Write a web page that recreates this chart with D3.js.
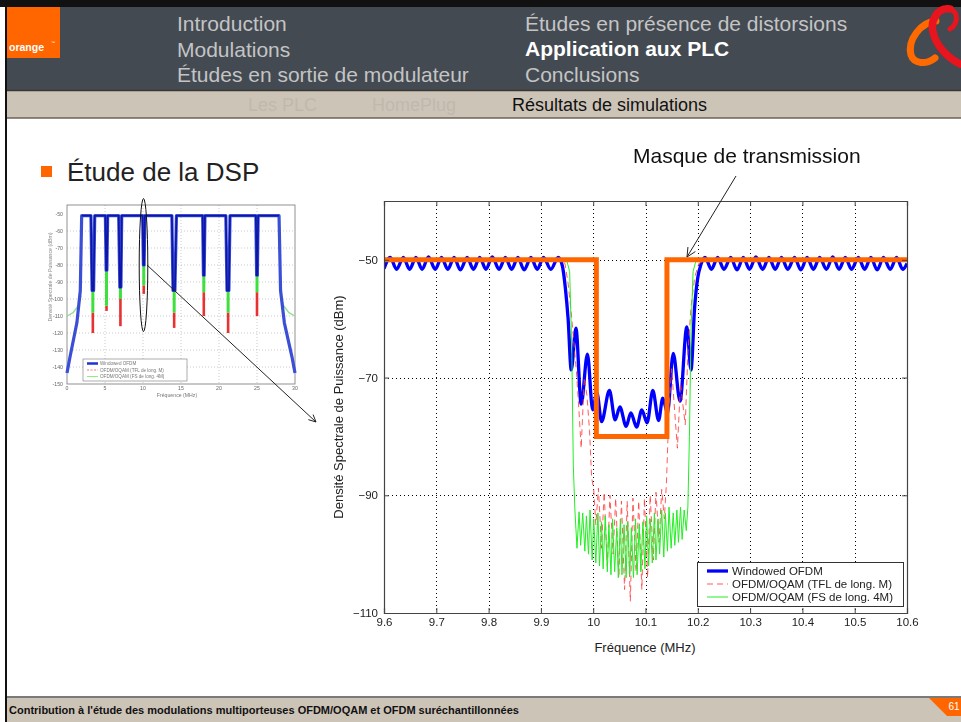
<!DOCTYPE html>
<html>
<head>
<meta charset="utf-8">
<script src="https://cdn.jsdelivr.net/npm/d3@7"></script>
<style>
  body { margin: 0; background: #fff; }
  svg { display: block; font-family: "Liberation Sans", Arial, Helvetica, sans-serif; }
</style>
</head>
<body>
<svg id="slide" width="961" height="722"></svg>
<script>
// ---------- Slide navigation ----------
const navLeft = ["Introduction", "Modulations", "Études en sortie de modulateur"];
const navRight = ["Études en présence de distorsions", "Application aux PLC", "Conclusions"];
const subNav = ["Les PLC", "HomePlug", "Résultats de simulations"];
const footerText = "Contribution à l'étude des modulations multiporteuses OFDM/OQAM et OFDM suréchantillonnées";
const pageNumber = "61";

// ---------- Zoomed PSD around the 10 MHz notch ----------
const xTickValues = [9.6, 9.7, 9.8, 9.9, 10.0, 10.1, 10.2, 10.3, 10.4, 10.5, 10.6];
const yTickValues = [-110, -90, -70, -50];
const legendLabels = ["Windowed OFDM", "OFDM/OQAM (TFL de long. M)", "OFDM/OQAM (FS de long. 4M)"];

const windowedFreq = [
  9.600, 9.612, 9.624, 9.637, 9.649, 9.661, 9.673, 9.685, 9.698, 9.710, 9.722, 9.734, 9.746, 9.759,
  9.771, 9.783, 9.795, 9.807, 9.820, 9.832, 9.844, 9.856, 9.868, 9.881, 9.893, 9.905, 9.919, 9.933,
  9.941, 9.947, 9.952, 9.958, 9.967, 9.977, 9.989, 9.999, 10.007, 10.016, 10.031, 10.042, 10.051,
  10.063, 10.072, 10.083, 10.093, 10.103, 10.114, 10.125, 10.133, 10.142, 10.153, 10.166, 10.179,
  10.187, 10.194, 10.200, 10.206,
  10.214, 10.226, 10.238, 10.250, 10.263, 10.275, 10.287, 10.299, 10.311, 10.324, 10.336, 10.348,
  10.360, 10.372, 10.385, 10.397, 10.409, 10.421, 10.433, 10.446, 10.458, 10.470, 10.482, 10.494,
  10.507, 10.519, 10.531, 10.543, 10.555, 10.568, 10.580, 10.592, 10.600
];
const windowedDsp = [
  -51.5, -49.6, -51.6, -49.6, -51.6, -49.6, -51.6, -49.5, -51.6, -49.6, -51.6, -49.6, -51.7, -49.6,
  -51.6, -49.6, -51.6, -49.5, -51.6, -49.6, -51.6, -49.6, -51.7, -49.6, -51.6, -49.6, -51.6, -49.6,
  -51.0, -55.0, -60.0, -68.7, -61.6, -74.5, -66.0, -75.5, -72.5, -77.5, -72.2, -77.2, -75.0,
  -78.3, -76.0, -78.4, -75.5, -77.7, -72.2, -77.3, -73.5, -76.0, -65.9, -74.0, -61.4,
  -68.7, -58.0, -53.0, -50.8,
  -49.6, -51.6, -49.6, -51.6, -49.6, -51.7, -49.6, -51.6, -49.5, -51.6, -49.6, -51.6,
  -49.6, -51.6, -49.6, -51.7, -49.6, -51.6, -49.6, -51.6, -49.5, -51.6, -49.6, -51.6,
  -49.6, -51.6, -49.6, -51.7, -49.6, -51.6, -49.6, -51.6, -50.6
];

const tflFreq = [
  9.600, 9.700, 9.800, 9.900, 9.940, 9.946, 9.952, 9.958, 9.963, 9.968, 9.973, 9.977, 9.983, 9.988,
  9.993, 9.997, 10.001,
  10.005, 10.010, 10.016, 10.021, 10.027, 10.032, 10.038, 10.043, 10.049, 10.054, 10.060, 10.065,
  10.071, 10.076, 10.082, 10.087, 10.093, 10.098, 10.104, 10.109, 10.115, 10.120, 10.126, 10.131,
  10.136, 10.140,
  10.145, 10.150, 10.156, 10.161, 10.167, 10.172, 10.176, 10.181, 10.187, 10.194, 10.202, 10.210,
  10.300, 10.400, 10.500, 10.600
];
const tflDsp = [
  -50.2, -50.2, -50.2, -50.2, -50.3, -50.6, -54, -59, -64, -69, -76, -82, -70, -73,
  -79, -87, -89,
  -95, -88.8, -99, -89.5, -102, -90, -100, -90.5, -104, -91, -106, -91,
  -108, -90.5, -103, -91, -106, -90.5, -104, -90, -101, -89.5, -98, -89,
  -94, -88,
  -75, -68.5, -76, -82, -71, -75, -78, -66, -58, -53, -50.6, -50.3,
  -50.2, -50.2, -50.2, -50.2
];

const fsFreq = [
  9.600, 9.700, 9.800, 9.900, 9.950, 9.955, 9.959, 9.962, 9.965,
  9.969, 9.973, 9.976, 9.980, 9.984, 9.987, 9.991, 9.994, 9.998, 10.001,
  10.005, 10.009, 10.012, 10.016, 10.019, 10.023, 10.027, 10.030, 10.034, 10.037,
  10.041, 10.045, 10.048, 10.052, 10.055, 10.059, 10.063, 10.066, 10.070, 10.073,
  10.077, 10.081, 10.084, 10.088, 10.091, 10.095, 10.099, 10.102, 10.106, 10.109,
  10.113, 10.117, 10.120, 10.124, 10.127, 10.131, 10.135, 10.138, 10.142, 10.145,
  10.149, 10.153, 10.156, 10.160, 10.163, 10.167, 10.170, 10.174, 10.178, 10.181,
  10.184, 10.187, 10.191, 10.196, 10.300, 10.400, 10.500, 10.600
];
const fsDsp = [
  -50.2, -50.2, -50.2, -50.2, -50.3, -52, -65, -85, -92.5,
  -99, -92.8, -98.5, -93, -99.5, -93.5, -100, -92.5, -101, -94,
  -101.5, -93, -102, -94.5, -102.5, -93.5, -103, -95, -103.5, -94,
  -103, -95.5, -104, -94, -103.5, -95, -104, -94.5, -103.5, -95.5,
  -104, -94, -103.5, -95, -103, -94.5, -102.5, -93.5, -102, -94,
  -101.5, -93, -101, -94, -100, -92.5, -100.5, -93, -99.5, -92,
  -99, -93, -98.5, -92.5, -98, -92, -97.5, -92.5, -96, -92,
  -80, -62, -52, -50.3, -50.2, -50.2, -50.2, -50.2
];

// transmission mask
const maskFreq = [9.6, 10.006, 10.006, 10.141, 10.141, 10.6];
const maskDsp = [-50, -50, -80, -80, -50, -50];

// ---------- Full-band PSD overview (0-30 MHz) ----------
const thumbXTicks = [0, 5, 10, 15, 20, 25, 30];
const thumbYTicks = [-50, -60, -70, -80, -90, -100, -110, -120, -130, -140, -150];
const thumbWinFreq = [0, 0.4, 1.3, 1.75, 1.93,
  3.15, 3.3, 3.5, 3.65, 5.05, 5.15, 5.25, 5.35, 6.8, 6.95, 7.1, 7.2, 9.95, 10.05, 10.15, 10.25,
  13.8, 13.95, 14.2, 14.4, 17.85, 17.95, 18.05, 18.15, 20.9, 21.05, 21.3, 21.45, 24.85, 24.95, 25.05, 25.15,
  27.9, 28.1, 28.6, 29.6, 30];
const thumbWinDsp = [-143.5, -134, -114, -95, -51,
  -51, -95, -95, -51, -51, -83, -83, -51, -51, -93, -93, -51, -51, -80, -80, -51,
  -51, -95, -95, -51, -51, -86, -86, -51, -51, -95, -95, -51, -51, -86, -86, -51,
  -51, -95, -114, -134, -143.5];
const thumbNotchFreq = [3.4, 5.2, 7.03, 10.1, 14.1, 18.0, 21.2, 25.0];
const thumbNotchBlue = [-95, -83, -93, -80, -95, -86, -95, -86];
const thumbNotchGreen = [-108, -104, -100, -92, -108, -96, -108, -96];
const thumbNotchRed = [-120, -107, -116, -97, -117, -110, -120, -110];
const thumbFsLeftFreq = [0, 0.8, 1.5, 1.85];
const thumbFsLeftDsp = [-110, -108, -104, -98];
const thumbFsRightFreq = [28.15, 28.5, 29.2, 30];
const thumbFsRightDsp = [-98, -104, -108, -110];

// ====================================================================
const svg = d3.select("#slide");
const defs = svg.append("defs");
defs.append("filter").attr("id", "soft")
  .append("feGaussianBlur").attr("stdDeviation", 0.55);
defs.append("clipPath").attr("id", "plotClip")
  .append("rect").attr("x", 384).attr("y", 201).attr("width", 523).attr("height", 412);

svg.append("rect").attr("width", 961).attr("height", 722).attr("fill", "#fff");

// ---------- header ----------
svg.append("rect").attr("x", 0).attr("y", 0).attr("width", 961).attr("height", 7).attr("fill", "#111");
svg.append("rect").attr("x", 7).attr("y", 7).attr("width", 954).attr("height", 83).attr("fill", "#434a52");
svg.append("rect").attr("x", 7).attr("y", 90).attr("width", 954).attr("height", 28).attr("fill", "#cdc4b8");
svg.append("line").attr("x1", 7).attr("x2", 961).attr("y1", 90.5).attr("y2", 90.5).attr("stroke", "#3a3632").attr("stroke-width", 1.5);
svg.append("line").attr("x1", 7).attr("x2", 961).attr("y1", 118).attr("y2", 118).attr("stroke", "#6e6258").attr("stroke-width", 1.5);
svg.append("rect").attr("x", 5).attr("y", 0).attr("width", 2).attr("height", 722).attr("fill", "#111");

// orange logo block
svg.append("rect").attr("x", 7).attr("y", 7).attr("width", 53).attr("height", 51).attr("fill", "#ff6600");
svg.append("text").attr("x", 9).attr("y", 51).attr("fill", "#fff").attr("font-size", 10.5)
  .attr("font-weight", "bold").text("orange");
svg.append("text").attr("x", 51).attr("y", 44).attr("fill", "#fff").attr("font-size", 4).text("™");

// ampersand ribbons
svg.append("path").attr("d", "M936 21 C921 22 907 40 911 55 C914 64 926 65 935 58")
  .attr("fill", "none").attr("stroke", "#ff6a00").attr("stroke-width", 7).attr("stroke-linecap", "round");
svg.append("path").attr("d", "M950 9 C938 7 930 20 933 32 C936 46 948 58 960 64")
  .attr("fill", "none").attr("stroke", "#e8141e").attr("stroke-width", 7.5).attr("stroke-linecap", "round");
svg.append("path").attr("d", "M950 9 C959 12 958 24 950 29")
  .attr("fill", "none").attr("stroke", "#e8141e").attr("stroke-width", 5).attr("stroke-linecap", "round");

const navBase = [31, 56.5, 82];
navLeft.forEach((t, i) => {
  svg.append("text").attr("x", 177).attr("y", navBase[i]).attr("font-size", 21).attr("fill", "#c4c4c4").text(t);
});
navRight.forEach((t, i) => {
  svg.append("text").attr("x", 525).attr("y", navBase[i] - 0.5).attr("font-size", 21)
    .attr("fill", i === 1 ? "#ffffff" : "#c4c4c4").attr("font-weight", i === 1 ? "bold" : "normal").text(t);
});
const subX = [248, 372, 512];
subNav.forEach((t, i) => {
  svg.append("text").attr("x", subX[i]).attr("y", 111).attr("font-size", 18)
    .attr("fill", i === 2 ? "#111" : "#c1b8ad").text(t);
});

// ---------- footer ----------
svg.append("rect").attr("x", 7).attr("y", 697).attr("width", 954).attr("height", 25).attr("fill", "#cdc4b8");
svg.append("line").attr("x1", 7).attr("x2", 961).attr("y1", 697).attr("y2", 697).attr("stroke", "#7a7a7a").attr("stroke-width", 2);
svg.append("text").attr("x", 9).attr("y", 714).attr("font-size", 11).attr("font-weight", "bold").attr("fill", "#111").text(footerText);
svg.append("path").attr("d", "M929 698 L961 698 L961 716 L947 716 Z").attr("fill", "#ff6600");
svg.append("text").attr("x", 954).attr("y", 710).attr("font-size", 10).attr("fill", "#fff").attr("text-anchor", "middle").text(pageNumber);

// ---------- bullet ----------
svg.append("rect").attr("x", 41).attr("y", 166).attr("width", 11).attr("height", 11).attr("fill", "#ff6600");
svg.append("text").attr("x", 67).attr("y", 181).attr("font-size", 26).attr("fill", "#222").text("Étude de la DSP");

// ---------- overview chart ----------
const tx = d3.scaleLinear().domain([0, 30]).range([67, 295]);
const ty = d3.scaleLinear().domain([-150, -44.7]).range([384, 205]);
const th = svg.append("g").attr("filter", "url(#soft)");
th.append("rect").attr("x", 67).attr("y", 205).attr("width", 228).attr("height", 179).attr("fill", "#fff");
thumbXTicks.slice(1, -1).forEach(t => th.append("line").attr("x1", tx(t)).attr("x2", tx(t)).attr("y1", 205).attr("y2", 384)
  .attr("stroke", "#aaa").attr("stroke-width", 0.6).attr("stroke-dasharray", "1,2"));
thumbYTicks.slice(1, -1).forEach(t => th.append("line").attr("x1", 67).attr("x2", 295).attr("y1", ty(t)).attr("y2", ty(t))
  .attr("stroke", "#aaa").attr("stroke-width", 0.6).attr("stroke-dasharray", "1,2"));
th.append("rect").attr("x", 67).attr("y", 205).attr("width", 228).attr("height", 179)
  .attr("fill", "none").attr("stroke", "#777").attr("stroke-width", 0.8);
const tline = d3.line().x(d => tx(d[0])).y(d => ty(d[1]));
th.append("path").datum(d3.zip(thumbFsLeftFreq, thumbFsLeftDsp)).attr("d", tline)
  .attr("fill", "none").attr("stroke", "#8fe08f").attr("stroke-width", 1.4);
th.append("path").datum(d3.zip(thumbFsRightFreq, thumbFsRightDsp)).attr("d", tline)
  .attr("fill", "none").attr("stroke", "#8fe08f").attr("stroke-width", 1.4);
thumbNotchFreq.forEach((f, i) => {
  th.append("line").attr("x1", tx(f)).attr("x2", tx(f)).attr("y1", ty(thumbNotchGreen[i])).attr("y2", ty(thumbNotchRed[i]))
    .attr("stroke", "#e83030").attr("stroke-width", 2.6);
  th.append("line").attr("x1", tx(f)).attr("x2", tx(f)).attr("y1", ty(thumbNotchBlue[i])).attr("y2", ty(thumbNotchGreen[i]))
    .attr("stroke", "#3ee03e").attr("stroke-width", 3);
});
th.append("path").datum(d3.zip(thumbWinFreq, thumbWinDsp)).attr("d", tline)
  .attr("fill", "none").attr("stroke", "#3a4fd6").attr("stroke-width", 3.2).attr("stroke-linejoin", "round");
th.append("path").datum(d3.zip(thumbWinFreq.slice(4, -4), thumbWinDsp.slice(4, -4))).attr("d", tline)
  .attr("fill", "none").attr("stroke", "#0a14a8").attr("stroke-width", 1.6);
thumbYTicks.forEach(t => th.append("text").attr("x", 63).attr("y", ty(t) + 1.8).attr("text-anchor", "end")
  .attr("font-size", 5.2).attr("fill", "#666").text(t));
thumbXTicks.forEach(t => th.append("text").attr("x", tx(t)).attr("y", 390).attr("text-anchor", "middle")
  .attr("font-size", 5.2).attr("fill", "#666").text(t));
th.append("text").attr("x", 177).attr("y", 396.5).attr("text-anchor", "middle").attr("font-size", 5.2).attr("fill", "#777").text("Fréquence (MHz)");
th.append("text").attr("transform", "translate(52,277) rotate(-90)").attr("text-anchor", "middle")
  .attr("font-size", 5.2).attr("fill", "#888").text("Densité Spectrale de Puissance (dBm)");
th.append("rect").attr("x", 83).attr("y", 359).attr("width", 104).attr("height", 22)
  .attr("fill", "#fff").attr("stroke", "#777").attr("stroke-width", 0.6);
const thumbLegendStyle = [["#2233cc", 2.5, null], ["#ee5555", 0.8, "2,1.5"], ["#66ee66", 0.8, null]];
legendLabels.forEach((t, i) => {
  const yy = 363.5 + i * 6.5;
  th.append("line").attr("x1", 87).attr("x2", 98).attr("y1", yy).attr("y2", yy)
    .attr("stroke", thumbLegendStyle[i][0]).attr("stroke-width", thumbLegendStyle[i][1])
    .attr("stroke-dasharray", thumbLegendStyle[i][2]);
  th.append("text").attr("x", 100).attr("y", yy + 1.6).attr("font-size", 4.6).attr("fill", "#777").text(t);
});

// ellipse around the 10 MHz notch and pointer to the zoom
svg.append("ellipse").attr("cx", 143.5).attr("cy", 265).attr("rx", 4.3).attr("ry", 66.5)
  .attr("fill", "none").attr("stroke", "#111").attr("stroke-width", 1);

function arrow(x1, y1, x2, y2, len) {
  const g = svg.append("g").attr("stroke", "#222").attr("stroke-width", 1).attr("fill", "none");
  g.append("line").attr("x1", x1).attr("y1", y1).attr("x2", x2).attr("y2", y2);
  const a = Math.atan2(y2 - y1, x2 - x1);
  [-0.45, 0.45].forEach(da => {
    g.append("line").attr("x1", x2).attr("y1", y2)
      .attr("x2", x2 - len * Math.cos(a + da)).attr("y2", y2 - len * Math.sin(a + da));
  });
}
arrow(147, 265, 316, 422, 8);

// ---------- zoomed chart ----------
const x = d3.scaleLinear().domain([9.6, 10.6]).range([384, 907]);
const y = d3.scaleLinear().domain([-110, -40]).range([613, 201]);

const grid = svg.append("g").attr("stroke", "#000").attr("stroke-width", 1).attr("stroke-dasharray", "1,3");
xTickValues.slice(1, -1).forEach(t => {
  const px = Math.round(x(t)) + 0.5;
  grid.append("line").attr("x1", px).attr("x2", px).attr("y1", 201).attr("y2", 613);
});
yTickValues.slice(1).forEach(t => {
  const py = Math.round(y(t)) + 0.5;
  grid.append("line").attr("x1", 384).attr("x2", 907).attr("y1", py).attr("y2", py);
});

const plot = svg.append("g").attr("clip-path", "url(#plotClip)");
const smooth = d3.line().x(d => x(d[0])).y(d => y(d[1])).curve(d3.curveMonotoneX);
const straight = d3.line().x(d => x(d[0])).y(d => y(d[1]));

plot.append("path").datum(d3.zip(windowedFreq, windowedDsp)).attr("d", smooth)
  .attr("fill", "none").attr("stroke", "#0000ff").attr("stroke-width", 3.3).attr("stroke-linejoin", "round");
plot.append("path").datum(d3.zip(tflFreq, tflDsp)).attr("d", straight)
  .attr("fill", "none").attr("stroke", "#ff4040").attr("stroke-opacity", 0.85).attr("stroke-width", 1)
  .attr("stroke-dasharray", "6,4");
plot.append("path").datum(d3.zip(fsFreq, fsDsp)).attr("d", straight)
  .attr("fill", "none").attr("stroke", "#22ee22").attr("stroke-width", 1);
plot.append("path").datum(d3.zip(maskFreq, maskDsp)).attr("d", straight)
  .attr("fill", "none").attr("stroke", "#ff6600").attr("stroke-width", 5).attr("stroke-linejoin", "miter");

// axes (ticks pointing inward on all four sides)
const axisColor = "#444";
const fmtX = d => String(Math.round(d * 10) / 10);
const gx = svg.append("g").attr("transform", "translate(0,613)")
  .call(d3.axisBottom(x).tickValues(xTickValues).tickSize(-5).tickPadding(5).tickFormat(fmtX));
const gxt = svg.append("g").attr("transform", "translate(0,201)")
  .call(d3.axisTop(x).tickValues(xTickValues).tickSize(-5).tickFormat(""));
const gy = svg.append("g").attr("transform", "translate(384,0)")
  .call(d3.axisLeft(y).tickValues(yTickValues).tickSize(-5).tickPadding(6));
const gyr = svg.append("g").attr("transform", "translate(907,0)")
  .call(d3.axisRight(y).tickValues(yTickValues).tickSize(-5).tickFormat(""));
[gx, gxt, gy, gyr].forEach(g => {
  g.select(".domain").attr("stroke", axisColor).attr("stroke-width", 1.2);
  g.selectAll(".tick line").attr("stroke", axisColor);
  g.selectAll(".tick text").attr("font-size", 11.5).attr("fill", "#222")
    .attr("font-family", "\"Liberation Sans\", Arial, sans-serif");
});

svg.append("text").attr("x", 645).attr("y", 652).attr("text-anchor", "middle").attr("font-size", 13)
  .attr("fill", "#222").text("Fréquence (MHz)");
svg.append("text").attr("transform", "translate(343,407) rotate(-90)").attr("text-anchor", "middle")
  .attr("font-size", 13).attr("fill", "#222").text("Densité Spectrale de Puissance (dBm)");

// legend
const lg = svg.append("g");
lg.append("rect").attr("x", 697.5).attr("y", 562.5).attr("width", 206).attr("height", 44)
  .attr("fill", "#fff").attr("stroke", "#333").attr("stroke-width", 1);
const legendStyle = [["#0000ff", 3.3, null, 1], ["#ff4040", 1, "6,4", 0.85], ["#22ee22", 1, null, 1]];
legendLabels.forEach((t, i) => {
  const yy = 571 + i * 13;
  lg.append("line").attr("x1", 707).attr("x2", 728).attr("y1", yy).attr("y2", yy)
    .attr("stroke", legendStyle[i][0]).attr("stroke-width", legendStyle[i][1])
    .attr("stroke-dasharray", legendStyle[i][2]).attr("stroke-opacity", legendStyle[i][3]);
  lg.append("text").attr("x", 732).attr("y", yy + 4).attr("font-size", 11.5).attr("fill", "#222").text(t);
});

// annotation of the transmission mask
svg.append("text").attr("x", 633).attr("y", 163).attr("font-size", 21).attr("fill", "#111").text("Masque de transmission");
arrow(736, 176, 687, 257, 10);
</script>
</body>
</html>
